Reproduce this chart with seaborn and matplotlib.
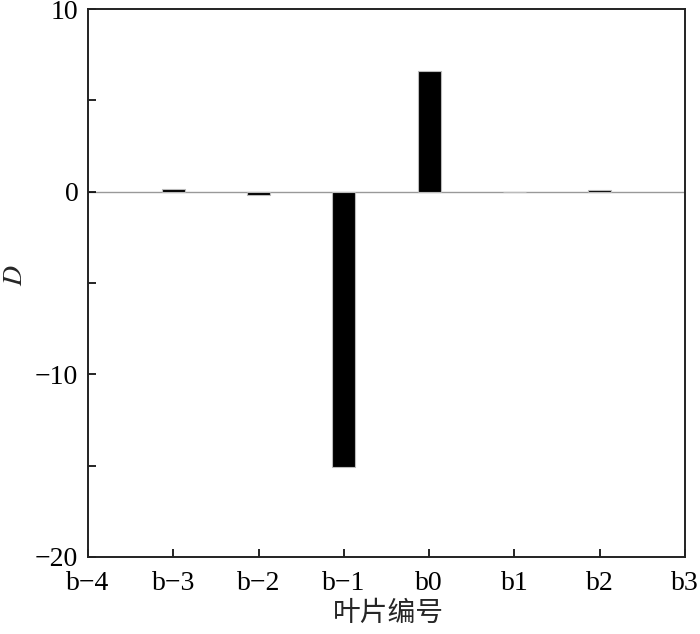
import matplotlib
matplotlib.use("Agg")
import matplotlib.pyplot as plt
import seaborn as sns
import pandas as pd
from matplotlib.ticker import MultipleLocator

# blade positions shown on the x axis
categories = ["b−4", "b−3", "b−2", "b−1", "b0", "b1", "b2", "b3"]
# blades that carry a bar and their D values
blades = ["b−3", "b−2", "b−1", "b0", "b1", "b2"]
d_values = [0.15, -0.2, -15.1, 6.6, 0.0, 0.1]

sns.set_theme(style="white")
plt.rcParams["font.family"] = ["Liberation Serif", "Noto Sans CJK SC"]
plt.rcParams["mathtext.fontset"] = "stix"

df = pd.DataFrame({"blade": blades, "D": d_values})

fig = plt.figure(figsize=(7.0, 6.34), dpi=100)
ax = fig.add_axes([0.1257, 0.1215, 0.8529, 0.8643])

sns.barplot(data=df, x="blade", y="D", order=categories, color="black",
            width=0.27, edgecolor="#bbbbbb", linewidth=0.8,
            saturation=1, ax=ax)

ax.axhline(0, color="#999999", lw=1.0, zorder=0)
ax.set_xlim(0, 7)
ax.set_ylim(-20, 10)
ax.yaxis.set_major_locator(MultipleLocator(10))
ax.yaxis.set_minor_locator(MultipleLocator(5))
ax.set_yticklabels([f"{int(t)}".replace("-", "−") for t in ax.get_yticks()])

for s in ax.spines.values():
    s.set_color("#222222")
    s.set_linewidth(1.4)

ax.tick_params(axis="both", which="both", direction="in", length=6, width=1.2,
               labelsize=20, colors="black", bottom=True, left=True)
ax.tick_params(axis="x", pad=10)
ax.tick_params(axis="y", pad=7)

ax.set_xlabel("叶片编号", fontsize=20, family=["Noto Sans CJK SC"], va="center")
ax.set_ylabel("$D$", fontsize=20, va="center")
ax.xaxis.set_label_coords(0.503, -0.102)
ax.yaxis.set_label_coords(-0.122, 0.515)

fig.savefig("out.png", dpi=100)
